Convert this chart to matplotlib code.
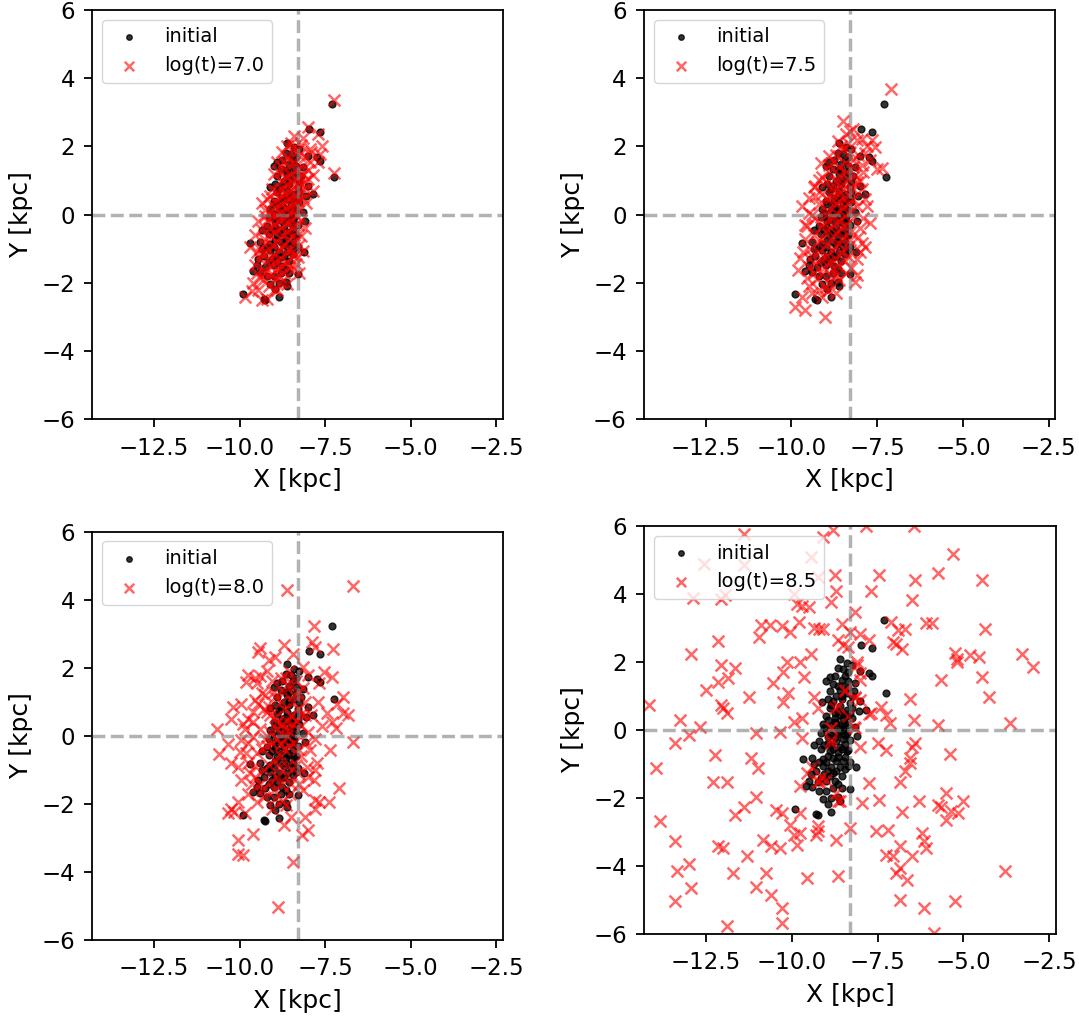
import numpy as np
import matplotlib

matplotlib.use('Agg')
import matplotlib.pyplot as plt

# sun position and panel ages
x_sun = -8.3
ages = ['7.0', '7.5', '8.0', '8.5']

# initial positions (x, y) in kpc
init_pts = [
    (-7.3, 3.24), (-7.97, 2.5), (-7.65, 2.41), (-8.6, 2.1), (-8.4, 1.97), (-8.25, 1.92),
    (-8.65, 1.82), (-8.5, 1.78), (-8.0, 1.73), (-7.75, 1.68), (-7.65, 1.58),
    (-8.55, 1.48), (-8.35, 1.43), (-8.15, 1.39), (-9.0, 1.43), (-8.8, 1.34),
    (-7.25, 1.09), (-8.9, 1.14), (-8.6, 1.19), (-8.4, 1.09), (-8.2, 1.14),
    (-9.12, 0.82), (-8.8, 0.85), (-8.55, 0.9), (-8.3, 0.8), (-8.0, 0.85),
    (-8.9, 0.65), (-8.65, 0.56), (-8.4, 0.6), (-8.05, 0.56), (-7.85, 0.6),
    (-9.0, 0.41), (-8.75, 0.36), (-8.5, 0.31), (-8.25, 0.36),
    (-9.1, 0.17), (-8.85, 0.12), (-8.6, 0.07), (-8.35, 0.15), (-8.15, 0.09),
    (-9.15, -0.08), (-8.9, -0.13), (-8.65, -0.13), (-8.4, -0.08), (-8.1, -0.18),
    (-9.2, -0.32), (-8.95, -0.37), (-8.7, -0.32), (-8.45, -0.42), (-9.35, -0.44),
    (-9.15, -0.57), (-8.9, -0.61), (-8.65, -0.66), (-8.4, -0.61),
    (-9.4, -0.81), (-9.1, -0.86), (-8.8, -0.81), (-8.5, -0.91), (-9.68, -0.84),
    (-9.1, -1.05), (-8.85, -1.1), (-8.6, -1.1), (-8.35, -1.05), (-8.12, -1.1),
    (-9.3, -1.2), (-9.05, -1.3), (-8.8, -1.25), (-8.55, -1.35),
    (-9.5, -1.49), (-9.25, -1.54), (-9.0, -1.49), (-9.6, -1.64), (-9.4, -1.69),
    (-8.3, -1.74), (-9.1, -2.03), (-8.95, -2.18), (-8.65, -1.98), (-8.6, -2.08),
    (-9.9, -2.32), (-9.3, -2.47), (-9.25, -2.49), (-8.85, -2.42),
    (-8.7, 0.2), (-8.5, 0.5), (-8.6, -0.5), (-8.8, 0.0), (-8.45, 0.2), (-8.7, 1.0),
    (-8.95, -0.2), (-8.5, -0.25), (-8.3, 0.5), (-8.6, 0.7), (-8.75, 1.6), (-8.45, 1.6),
    (-8.7, -0.9), (-8.95, -1.2), (-8.25, 1.0), (-8.35, -0.6), (-9.05, 0.05), (-8.75, -1.5),
    (-8.55, -1.7), (-9.2, -1.8), (-8.55, 1.0), (-8.75, 0.5), (-8.95, 0.9), (-8.45, -0.8),
    (-8.85, -0.45), (-9.0, -0.95), (-8.65, 1.3), (-8.35, 1.25), (-8.3, -0.3), (-8.8, -1.7),
    (-8.55, 1.3), (-8.85, 0.75), (-8.6, 0.45), (-8.4, 0.4), (-8.75, 0.25), (-8.55, 0.15),
    (-8.95, 0.3), (-8.65, -0.05), (-8.45, -0.15), (-9.05, -0.45), (-8.8, -0.55), (-8.55, -0.55),
    (-8.95, -0.75), (-8.65, -0.8), (-9.2, -0.95), (-8.7, -1.2), (-9.15, -1.4), (-8.9, -1.35),
    (-8.45, -1.15), (-8.65, -1.6), (-9.35, -1.0), (-8.25, 0.65), (-8.35, 1.7), (-8.9, 1.55),
    (-8.3, -0.95), (-9.0, -1.8), (-8.85, -2.0), (-9.45, -1.3), (-8.5, 0.0), (-8.75, -0.2),
]

# positions after log(t)=7.0
red_70 = [
    (-7.25, 3.35), (-8.0, 2.56), (-7.7, 2.36), (-8.4, 2.32), (-7.95, 1.92), (-7.65, 1.77),
    (-7.7, 1.53), (-7.25, 1.23), (-8.9, 1.53), (-8.6, 2.02), (-7.85, 0.69), (-9.1, 0.54),
    (-9.25, 0.15), (-8.2, -0.15), (-9.35, -0.44), (-9.7, -0.94), (-8.2, -0.64), (-8.15, -1.08),
    (-9.55, -1.48), (-9.3, -1.63), (-8.25, -1.72), (-8.8, -1.97), (-8.6, -2.02), (-9.0, -2.22),
    (-9.35, -2.51), (-9.2, -2.46), (-9.85, -2.41), (-8.4, -1.18),
    (-8.5, 2.1), (-8.3, 1.9), (-8.1, 1.7), (-8.6, 1.7), (-8.4, 1.5), (-8.2, 1.4), (-8.0, 1.3),
    (-8.7, 1.3), (-8.5, 1.2), (-8.3, 1.1), (-8.1, 1.0), (-8.8, 1.0), (-8.6, 0.9), (-8.4, 0.8),
    (-8.2, 0.7), (-8.9, 0.7), (-8.7, 0.6), (-8.5, 0.5), (-8.3, 0.4), (-9.0, 0.4), (-8.8, 0.3),
    (-8.6, 0.2), (-8.4, 0.1), (-9.1, 0.1), (-8.9, 0.0), (-8.7, -0.1), (-8.5, -0.2), (-8.3, -0.3),
    (-9.2, -0.2), (-9.0, -0.3), (-8.8, -0.4), (-8.6, -0.5), (-8.4, -0.6), (-9.3, -0.7), (-9.1, -0.6),
    (-8.9, -0.8), (-8.7, -0.9), (-8.5, -1.0), (-9.4, -1.0), (-9.2, -1.1), (-9.0, -1.2), (-8.8, -1.3),
    (-8.6, -1.4), (-9.4, -1.3), (-9.1, -1.5), (-8.9, -1.6), (-8.7, -1.7), (-9.5, -1.7), (-9.3, -1.9),
    (-9.0, -1.9), (-9.6, -2.0), (-9.45, -2.2), (-8.35, -1.45), (-8.25, 0.95), (-7.95, 1.55),
    (-7.85, 1.15), (-8.05, 0.35), (-8.25, -0.9), (-9.45, -0.2), (-9.35, 0.35), (-9.0, 1.2),
    (-8.75, 1.85), (-8.15, 2.25), (-7.6, 2.0),
    (-8.45, 1.95), (-8.25, 1.75), (-8.55, 1.6), (-8.35, 1.3), (-8.15, 1.2), (-8.65, 1.1),
    (-8.45, 0.95), (-8.25, 0.85), (-8.75, 0.75), (-8.55, 0.65), (-8.35, 0.55), (-8.15, 0.5),
    (-8.85, 0.5), (-8.65, 0.4), (-8.45, 0.3), (-8.25, 0.2), (-8.95, 0.2), (-8.75, 0.1),
    (-8.55, 0.05), (-8.35, -0.05), (-9.05, -0.05), (-8.85, -0.15), (-8.65, -0.25), (-8.45, -0.35),
    (-9.15, -0.4), (-8.95, -0.5), (-8.75, -0.6), (-8.55, -0.7), (-8.35, -0.75), (-9.25, -0.85),
    (-9.05, -0.9), (-8.85, -1.0), (-8.65, -1.1), (-8.45, -1.2), (-9.35, -1.15), (-9.15, -1.3),
    (-8.95, -1.4), (-8.75, -1.5), (-8.55, -1.55), (-9.25, -1.7), (-9.05, -1.75), (-8.85, -1.8),
    (-9.4, -1.85), (-9.15, -2.1), (-8.9, -2.2), (-9.65, -2.25), (-9.55, -0.6), (-9.5, -1.1),
    (-8.05, 0.75), (-8.0, 1.05), (-7.9, 1.85), (-8.2, 2.05), (-8.7, 1.55), (-8.85, 1.25),
    (-9.05, 0.75), (-9.2, 0.45), (-9.25, -0.05), (-8.3, -1.25), (-8.4, -1.6), (-8.1, -0.4),
]

# positions after log(t)=7.5
red_75 = [
    (-7.1, 3.67), (-8.5, 2.76), (-8.2, 2.51), (-7.95, 2.22), (-7.8, 2.02), (-7.55, 1.97),
    (-8.65, 2.17), (-7.35, 1.38), (-7.5, 1.33), (-8.9, 1.72), (-9.2, 1.03), (-9.3, 0.84),
    (-9.5, 0.05), (-7.8, 0.25), (-9.55, -0.34), (-7.95, -0.84), (-7.85, -0.94), (-9.75, -1.28),
    (-9.8, -1.63), (-9.5, -1.53), (-8.4, -1.72), (-8.1, -1.77), (-8.15, -1.97), (-9.0, -2.12),
    (-8.6, -1.92), (-9.9, -2.71), (-9.6, -2.79), (-9.02, -3.0), (-8.7, -1.77), (-9.3, 0.54),
    (-7.7, -0.25), (-7.95, 0.74),
    (-8.55, 2.0), (-8.3, 1.85), (-8.05, 1.75), (-8.75, 1.55), (-8.45, 1.5), (-8.2, 1.4), (-7.9, 1.25),
    (-8.9, 1.25), (-8.6, 1.15), (-8.35, 1.05), (-8.1, 0.95), (-9.0, 0.95), (-8.75, 0.85), (-8.5, 0.75),
    (-8.25, 0.65), (-9.1, 0.6), (-8.85, 0.5), (-8.6, 0.4), (-8.35, 0.3), (-8.1, 0.25), (-9.2, 0.3),
    (-8.95, 0.15), (-8.7, 0.05), (-8.45, -0.05), (-8.2, -0.1), (-9.3, -0.1), (-9.05, -0.25),
    (-8.8, -0.3), (-8.55, -0.4), (-8.3, -0.5), (-9.35, -0.6), (-9.1, -0.7), (-8.85, -0.75),
    (-8.6, -0.85), (-8.35, -0.95), (-9.45, -1.0), (-9.2, -1.1), (-8.95, -1.2), (-8.7, -1.3),
    (-8.45, -1.35), (-9.3, -1.45), (-9.05, -1.55), (-8.8, -1.6), (-9.55, -1.85), (-9.25, -1.9),
    (-8.9, -2.0), (-9.4, -2.3), (-9.1, -2.4), (-8.4, 2.35), (-7.7, 1.6), (-8.0, -0.4),
    (-9.6, -0.7), (-9.5, 0.5), (-8.1, -1.3), (-8.0, 1.0), (-9.15, 1.5), (-8.7, -2.3),
    (-8.5, 1.9), (-8.2, 1.6), (-8.6, 1.4), (-8.4, 1.25), (-8.15, 1.15), (-8.7, 1.0),
    (-8.5, 0.9), (-8.25, 0.8), (-8.8, 0.7), (-8.6, 0.6), (-8.4, 0.5), (-8.2, 0.45),
    (-8.95, 0.45), (-8.7, 0.3), (-8.5, 0.2), (-8.3, 0.1), (-9.0, 0.0), (-8.8, -0.1),
    (-8.6, -0.2), (-8.4, -0.3), (-9.15, -0.35), (-8.95, -0.45), (-8.7, -0.55), (-8.5, -0.65),
    (-8.3, -0.75), (-9.25, -0.8), (-9.0, -0.9), (-8.8, -1.0), (-8.55, -1.1), (-8.35, -1.2),
    (-9.4, -1.2), (-9.15, -1.3), (-8.9, -1.4), (-8.65, -1.5), (-9.35, -1.7), (-9.1, -1.75),
    (-8.85, -1.8), (-9.5, -2.1), (-9.2, -2.2), (-8.95, -2.25), (-9.7, -2.4), (-9.6, -0.3),
    (-9.4, 0.0), (-9.35, 0.8), (-9.1, 1.1), (-8.9, 1.45), (-8.7, 1.75), (-8.35, 2.1),
    (-8.1, 2.2), (-7.85, 1.8), (-7.95, 1.45), (-7.85, 0.45), (-7.9, -0.1), (-8.05, -0.65),
    (-8.25, -1.55), (-8.0, -1.1), (-9.65, -1.1), (-9.7, 0.25), (-8.3, 2.45), (-7.65, 2.2),
]

# positions after log(t)=8.0
red_80 = [
    (-8.62, 4.28), (-6.69, 4.41), (-7.82, 3.23), (-9.4, 2.57), (-9.47, 2.47), (-8.69, 2.67),
    (-7.89, 2.76), (-7.79, 2.62), (-7.26, 2.54), (-8.44, 2.42), (-9.15, 2.23), (-8.95, 2.32),
    (-9.75, 1.78), (-9.55, 1.69), (-9.8, 1.59), (-9.5, 1.54), (-8.14, 2.03), (-7.99, 1.78),
    (-7.54, 1.88), (-7.29, 1.74), (-7.69, 1.54), (-9.35, 1.25), (-9.95, 0.95), (-10.2, 0.85),
    (-9.55, 1.05), (-9.15, 0.85), (-6.99, 1.15), (-7.14, 0.95), (-10.25, 0.51), (-9.75, 0.51),
    (-7.44, 0.66), (-7.29, 0.41), (-6.99, 0.66), (-6.84, 0.61), (-10.65, 0.19), (-7.19, 0.22),
    (-9.95, -0.13), (-9.6, -0.03), (-10.35, -0.23), (-6.69, -0.18), (-10.6, -0.52), (-10.0, -0.47),
    (-7.36, -0.42), (-7.94, -0.42), (-10.25, -0.81), (-10.05, -0.91), (-9.75, -0.81), (-7.74, -0.81),
    (-7.79, -1.01), (-8.04, -0.91), (-9.55, -1.2), (-9.95, -1.3), (-7.09, -1.52), (-7.84, -1.3),
    (-9.35, -1.6), (-9.75, -1.7), (-8.54, -1.7), (-8.14, -1.6), (-10.05, -1.94), (-9.5, -1.94),
    (-7.79, -1.89), (-7.69, -1.94), (-7.79, -2.14), (-7.39, -1.94), (-10.25, -2.14), (-10.35, -2.28),
    (-10.15, -2.24), (-9.85, -2.28), (-9.05, -2.14), (-8.64, -2.04), (-8.09, -2.38), (-8.49, -2.38),
    (-8.69, -2.63), (-7.99, -2.77), (-9.6, -2.87), (-8.19, -2.92), (-10.05, -3.07), (-10.05, -3.46),
    (-9.9, -3.51), (-8.44, -3.71), (-8.87, -5.03),
    (-9.3, 0.8), (-9.1, 0.6), (-8.9, 0.4), (-8.7, 0.2), (-8.5, 0.6), (-8.8, 1.0), (-9.0, 1.3),
    (-8.6, 1.5), (-8.4, 1.2), (-8.3, 0.8), (-8.2, 0.3), (-8.9, -0.1), (-9.2, -0.3), (-8.7, -0.4),
    (-8.4, -0.2), (-9.0, -0.7), (-8.6, -0.9), (-9.3, -1.0), (-8.9, -1.2), (-8.3, -1.1), (-9.4, 0.2),
    (-8.1, 1.0), (-8.0, 0.1), (-9.6, 0.4), (-9.5, -0.5), (-8.2, -0.6), (-8.8, 1.7), (-9.2, 1.9),
    (-8.5, -1.4), (-9.0, -1.6), (-9.7, -1.1), (-8.6, 0.0), (-8.8, -0.6), (-9.1, 0.1), (-8.7, 0.8),
    (-8.45, 0.35), (-9.25, 1.2), (-8.55, 1.9), (-8.35, 1.6), (-9.85, 0.2), (-9.8, -0.5),
    (-8.15, 1.4), (-7.9, 0.6), (-8.05, -0.2), (-7.7, 1.0), (-9.4, -1.4), (-8.75, -1.9),
    (-9.45, 0.95), (-9.2, 0.7), (-8.95, 0.55), (-8.75, 0.35), (-8.55, 0.15), (-8.35, 0.45),
    (-8.95, 1.15), (-8.7, 1.3), (-8.45, 1.0), (-8.2, 0.65), (-9.05, -0.2), (-8.8, -0.25),
    (-8.55, -0.3), (-8.3, -0.4), (-9.35, -0.4), (-9.15, -0.85), (-8.85, -0.95), (-8.6, -1.15),
    (-8.35, -0.85), (-9.55, -0.9), (-9.1, -1.35), (-8.75, -1.45), (-9.3, -1.8), (-9.65, -1.4),
    (-8.95, -1.85), (-8.25, -1.4), (-8.0, -1.2), (-8.1, 0.6), (-8.3, 1.3), (-8.65, 1.7),
    (-9.05, 1.6), (-9.4, 1.75), (-9.6, 0.7), (-9.75, -0.2), (-9.9, 0.35), (-9.25, -0.1),
    (-8.6, 0.45), (-8.9, 0.2), (-7.8, -0.1), (-7.6, 0.3),
]

# positions after log(t)=8.5
red_85 = [
    (-11.4, 5.77), (-9.1, 5.67), (-8.8, 5.88), (-7.85, 6.0), (-6.45, 6.0), (-9.45, 5.1),
    (-12.57, 4.89), (-11.4, 4.84), (-5.3, 5.18), (-5.75, 4.61), (-7.45, 4.57), (-8.75, 4.55),
    (-9.25, 4.5), (-6.4, 4.42), (-4.45, 4.4), (-8.7, 4.1), (-7.7, 4.09), (-9.95, 4.0),
    (-11.95, 3.96), (-12.05, 3.86), (-12.87, 3.88), (-6.5, 3.81), (-8.85, 3.76), (-9.85, 3.71),
    (-9.7, 3.64), (-9.5, 3.62), (-8.17, 3.47), (-9.8, 3.18), (-7.1, 3.18), (-6.1, 3.15),
    (-5.9, 3.15), (-8.55, 3.13), (-10.9, 3.08), (-10.65, 3.08), (-10.3, 3.05), (-9.35, 3.0),
    (-9.2, 2.98), (-9.1, 2.98), (-6.9, 2.93), (-6.7, 2.98), (-4.38, 2.98), (-10.05, 2.88),
    (-8.3, 2.88), (-8.0, 2.83), (-10.95, 2.74), (-8.65, 2.64), (-12.15, 2.61), (-7.75, 2.64),
    (-7.05, 2.59), (-6.95, 2.54), (-8.5, 2.49), (-8.35, 2.44), (-6.8, 2.39), (-12.95, 2.25),
    (-9.45, 2.23), (-5.25, 2.27), (-5.2, 2.1), (-4.8, 2.2), (-4.55, 2.15), (-3.3, 2.23),
    (-10.15, 2.0), (-9.75, 2.0), (-8.1, 2.0), (-5.2, 2.0), (-12.07, 1.91), (-11.65, 1.81),
    (-2.97, 1.84), (-10.25, 1.71), (-9.65, 1.56), (-11.85, 1.52), (-12.15, 1.42), (-5.65, 1.47),
    (-4.45, 1.56), (-10.55, 1.37), (-8.0, 1.47), (-12.5, 1.17), (-8.45, 1.17), (-10.1, 1.08),
    (-11.25, 0.98), (-9.35, 0.98), (-8.15, 0.98), (-8.0, 0.88), (-4.25, 0.98), (-6.55, 0.9),
    (-10.25, 0.83), (-14.15, 0.73), (-12.05, 0.73), (-12.0, 0.64), (-11.9, 0.49), (-7.4, 0.68),
    (-9.25, 0.64), (-8.75, 0.64), (-7.7, 0.49), (-7.25, 0.44), (-6.45, 0.29), (-3.65, 0.21),
    (-7.15, 0.2), (-13.25, 0.29), (-9.95, 0.24), (-9.7, 0.34), (-12.67, 0.1), (-5.73, 0.15),
    (-8.85, 0.05), (-8.2, 0.1), (-11.05, -0.08), (-10.35, -0.05), (-13.0, -0.15), (-9.7, -0.24),
    (-13.4, -0.39), (-8.0, -0.49), (-7.5, -0.39), (-6.5, -0.49), (-6.4, -0.39), (-8.85, -0.29),
    (-7.25, -0.59), (-5.4, -0.7), (-12.23, -0.73), (-6.55, -0.83), (-6.55, -0.98), (-11.2, -0.83),
    (-13.95, -1.12), (-11.0, -1.12), (-9.4, -1.08), (-6.7, -1.22), (-9.55, -1.27), (-9.15, -1.37),
    (-6.85, -1.52), (-12.3, -1.52), (-11.9, -1.52), (-9.25, -1.52), (-9.0, -1.47), (-9.75, -1.66),
    (-7.75, -1.56), (-5.5, -1.86), (-11.05, -1.96), (-8.7, -1.86), (-8.65, -2.1), (-7.45, -2.05),
    (-7.95, -2.15), (-6.3, -2.1), (-5.0, -2.1), (-5.75, -2.2), (-5.65, -2.25), (-6.8, -2.42),
    (-11.4, -2.25), (-10.45, -2.35), (-10.3, -2.44), (-9.75, -2.44), (-5.35, -2.39), (-5.15, -2.44),
    (-5.5, -2.64), (-11.65, -2.49), (-13.85, -2.69), (-10.05, -2.79), (-9.25, -2.83), (-9.25, -2.98),
    (-8.3, -2.88), (-7.55, -2.98), (-7.2, -2.93), (-6.2, -3.03), (-6.15, -3.27), (-9.95, -3.08),
    (-9.75, -3.03), (-9.3, -3.08), (-13.4, -3.27), (-10.85, -3.23), (-8.7, -3.23), (-9.85, -3.37),
    (-12.15, -3.42), (-12.0, -3.47), (-10.6, -3.42), (-10.35, -3.47), (-6.85, -3.42), (-6.1, -3.47),
    (-7.25, -3.67), (-7.05, -3.71), (-6.5, -3.71), (-11.3, -3.71), (-13.0, -3.93), (-6.85, -4.06),
    (-6.95, -4.2), (-13.35, -4.15), (-11.7, -4.2), (-10.75, -4.2), (-3.8, -4.15), (-9.55, -4.35),
    (-8.65, -4.3), (-6.65, -4.4), (-11.05, -4.61), (-12.95, -4.64), (-10.6, -4.84), (-13.4, -5.03),
    (-6.85, -4.99), (-5.25, -5.03), (-10.3, -5.23), (-6.15, -5.23), (-10.3, -5.67), (-11.9, -5.77),
    (-5.85, -5.96),
    (-8.45, 1.14), (-8.15, 0.95), (-8.65, 0.7), (-8.35, 0.41), (-8.85, 0.07), (-8.85, -0.37),
    (-9.2, -1.49), (-8.6, -2.08), (-8.1, 1.92), (-8.0, 1.68), (-7.75, 0.46), (-8.15, 0.07),
]

red_sets = [red_70, red_75, red_80, red_85]

# axes boxes [left, bottom, width, height] in figure fractions
boxes = [
    [0.0855, 0.5885, 0.3809, 0.4017],
    [0.5969, 0.5885, 0.3813, 0.4017],
    [0.0855, 0.0775, 0.3809, 0.4007],
    [0.5971, 0.0834, 0.3816, 0.4004],
]

fig = plt.figure(figsize=(10.79, 10.19), dpi=100)
init = np.array(init_pts)

for box, age, pts in zip(boxes, ages, red_sets):
    red = np.array(pts)
    ax = fig.add_axes(box)
    ax.scatter(init[:, 0], init[:, 1], s=24, c='black', alpha=0.8, label='initial')
    ax.scatter(red[:, 0], red[:, 1], s=72, marker='x', c='red', alpha=0.6,
               linewidths=1.8, label=f'log(t)={age}')
    ax.axvline(x_sun, ls='--', color='gray', alpha=0.6, lw=2.5)
    ax.axhline(0, ls='--', color='gray', alpha=0.6, lw=2.5)
    ax.set_xlim(x_sun - 6, x_sun + 6)
    ax.set_ylim(-6, 6)
    ax.set_xticks([-12.5, -10.0, -7.5, -5.0, -2.5])
    ax.set_yticks([-6, -4, -2, 0, 2, 4, 6])
    ax.tick_params(labelsize=16.5, length=6, width=1.3, pad=6.5)
    for sp in ax.spines.values():
        sp.set_linewidth(1.3)
    ax.set_xlabel('X [kpc]', fontsize=18, labelpad=6)
    ax.set_ylabel('Y [kpc]', fontsize=18, labelpad=6)
    ax.legend(loc='upper left', fontsize=14, markerscale=0.8)

fig.savefig('out.png', dpi=100)
